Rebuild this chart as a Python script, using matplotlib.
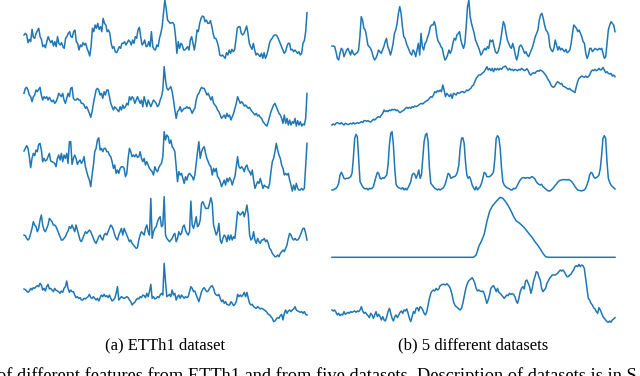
import matplotlib

matplotlib.use("Agg")

import matplotlib.pyplot as plt
import numpy as np

# ETTh1 features (left column)
etth1_feature_1 = [
    75, 80, 75, 52, 62, 55, 92, 68, 65, 80, 88, 95, 70, 62, 40, 45, 37, 55, 70, 60,
    52, 58, 42, 55, 40, 70, 50, 45, 52, 40, 35, 65, 70, 80, 85, 70, 68, 85, 90, 55,
    50, 30, 45, 40, 52, 45, 50, 35, 25, 12, 40, 95, 85, 105, 95, 110, 92, 100, 85, 125,
    110, 105, 85, 90, 80, 50, 35, 40, 25, 22, 30, 40, 35, 50, 50, 55, 45, 52, 60, 55,
    45, 60, 50, 70, 65, 90, 98, 70, 45, 50, 60, 40, 42, 55, 40, 85, 40, 32, 30, 45,
    40, 65, 80, 100, 140, 180, 155, 120, 115, 110, 112, 112, 105, 70, 20, 55, 35, 50, 45, 30,
    30, 35, 40, 30, 60, 70, 50, 30, 55, 90, 85, 110, 125, 132, 130, 115, 120, 110, 110, 118,
    102, 80, 65, 65, 55, 40, 15, 12, 15, 10, 5, 22, 15, 30, 20, 32, 25, 30, 60, 95,
    100, 100, 80, 75, 80, 90, 102, 80, 50, 40, 32, 50, 30, 15, 20, 15, 10, 20, 5, 22,
    5, 15, 30, 50, 60, 65, 72, 75, 75, 70, 60, 50, 40, 30, 20, 25, 40, 50, 50, 30,
    32, 25, 30, 25, 20, 25, 15, 20, 50, 58, 85, 142,
]
etth1_feature_2 = [
    100, 115, 118, 110, 95, 90, 75, 90, 95, 110, 105, 112, 118, 95, 80, 90, 85, 90, 80, 88,
    80, 75, 80, 70, 75, 85, 100, 95, 90, 100, 80, 70, 85, 100, 90, 115, 118, 85, 80, 80,
    85, 80, 80, 70, 70, 65, 55, 60, 50, 40, 28, 45, 70, 90, 110, 115, 110, 95, 100, 85,
    105, 95, 110, 110, 90, 70, 60, 50, 60, 55, 50, 45, 60, 50, 65, 55, 60, 70, 65, 90,
    80, 90, 85, 70, 80, 90, 80, 70, 80, 60, 90, 75, 60, 80, 70, 60, 70, 80, 75, 70,
    60, 65, 80, 90, 110, 180, 140, 115, 110, 115, 120, 105, 80, 50, 25, 45, 50, 60, 45, 50,
    55, 55, 60, 55, 58, 50, 40, 50, 55, 80, 95, 100, 110, 118, 115, 115, 105, 95, 100, 90,
    80, 90, 70, 65, 60, 50, 45, 35, 25, 30, 35, 25, 40, 30, 35, 20, 30, 40, 55, 70,
    90, 80, 70, 75, 70, 62, 65, 60, 55, 58, 50, 45, 40, 35, 40, 32, 35, 28, 25, 15,
    10, 5, 2, 15, 30, 45, 55, 65, 70, 60, 50, 40, 35, 25, 10, 35, 10, 25, 5, 20,
    5, 15, 10, 25, 2, 18, 5, 15, 2, 8, 5, 25, 100,
]
etth1_feature_3 = [
    122, 130, 138, 130, 105, 72, 100, 115, 108, 125, 120, 142, 145, 125, 90, 100, 92, 95, 105, 115,
    92, 90, 88, 85, 75, 100, 110, 95, 115, 90, 110, 100, 115, 85, 150, 150, 82, 100, 110, 100,
    82, 90, 95, 85, 92, 105, 75, 60, 45, 35, 15, 50, 80, 120, 130, 155, 162, 125, 130, 120,
    130, 130, 120, 120, 110, 105, 90, 70, 80, 55, 65, 55, 70, 75, 75, 70, 45, 55, 100, 130,
    120, 105, 110, 105, 112, 103, 105, 120, 100, 90, 100, 80, 90, 80, 70, 65, 60, 50, 75, 65,
    60, 72, 80, 85, 105, 180, 155, 170, 165, 145, 155, 135, 130, 120, 75, 30, 60, 50, 55, 40,
    25, 45, 35, 50, 55, 50, 45, 35, 50, 85, 120, 150, 100, 120, 130, 135, 115, 100, 90, 80,
    75, 50, 70, 60, 70, 45, 40, 30, 15, 25, 35, 20, 40, 30, 42, 35, 20, 35, 45, 75,
    105, 75, 70, 75, 70, 60, 75, 80, 65, 60, 50, 65, 35, 10, 20, 30, 25, 40, 25, 10,
    20, 15, 15, 10, 25, 60, 90, 100, 120, 145, 125, 110, 100, 80, 70, 50, 55, 50, 55, 35,
    20, 2, 20, 5, 25, 10, 5, 5, 10, 5, 10, 80, 145,
]
etth1_feature_4 = [
    68, 66, 58, 53, 58, 73, 88, 108, 98, 93, 78, 88, 113, 128, 98, 83, 78, 88, 98, 118,
    113, 108, 98, 98, 93, 83, 73, 63, 53, 53, 58, 63, 73, 80, 93, 88, 98, 88, 78, 98,
    83, 68, 53, 48, 58, 68, 78, 73, 78, 83, 78, 68, 58, 48, 43, 53, 63, 68, 58, 53,
    68, 73, 68, 78, 88, 98, 93, 83, 68, 58, 53, 68, 78, 88, 68, 88, 78, 68, 58, 48,
    53, 43, 38, 33, 28, 30, 53, 68, 78, 73, 68, 88, 98, 78, 68, 178, 58, 78, 88, 93,
    108, 118, 123, 93, 98, 183, 68, 58, 53, 48, 53, 58, 68, 73, 48, 58, 78, 68, 73, 93,
    98, 83, 73, 68, 78, 170, 98, 88, 103, 123, 93, 98, 113, 163, 168, 158, 148, 148, 148, 163,
    180, 163, 98, 83, 68, 78, 103, 53, 43, 58, 68, 63, 48, 68, 53, 68, 53, 63, 58, 98,
    138, 133, 128, 133, 138, 123, 138, 158, 128, 68, 53, 58, 78, 53, 43, 58, 48, 43, 53, 53,
    58, 48, 53, 43, 28, 23, 13, 8, 3, 3, 8, 3, 13, 18, 23, 18, 28, 38, 58, 73,
    68, 58, 53, 58, 53, 53, 58, 68, 78, 88, 88, 73, 53,
]
etth1_feature_5 = [
    106, 104, 100, 96, 100, 108, 103, 110, 108, 113, 116, 113, 123, 118, 103, 108, 100, 113, 120, 106,
    108, 103, 98, 108, 102, 100, 98, 93, 100, 96, 108, 113, 130, 108, 96, 103, 98, 98, 88, 80,
    83, 78, 80, 73, 73, 78, 76, 80, 83, 90, 80, 78, 83, 78, 73, 78, 70, 80, 88, 83,
    90, 83, 86, 80, 88, 78, 70, 73, 78, 93, 113, 73, 78, 83, 80, 78, 80, 83, 80, 73,
    68, 58, 63, 66, 73, 78, 76, 83, 80, 88, 86, 80, 93, 83, 98, 120, 78, 83, 76, 78,
    83, 80, 88, 93, 88, 183, 128, 83, 86, 90, 83, 103, 88, 93, 73, 83, 88, 78, 88, 83,
    78, 83, 80, 83, 98, 113, 108, 98, 100, 88, 78, 68, 83, 98, 106, 110, 103, 98, 100, 108,
    113, 116, 108, 93, 88, 86, 90, 78, 68, 73, 63, 68, 60, 58, 58, 68, 63, 56, 60, 68,
    90, 83, 88, 83, 88, 96, 83, 96, 78, 63, 58, 60, 53, 50, 48, 53, 50, 46, 48, 46,
    43, 40, 36, 30, 28, 23, 18, 8, 10, 16, 20, 18, 26, 30, 13, 33, 43, 33, 40, 43,
    38, 43, 46, 53, 43, 40, 38, 36, 38, 33, 38, 30, 28,
]

# one series from each of the five datasets (right column)
dataset_1 = [
    47, 47, 45, 30, 10, 5, 25, 40, 35, 15, 25, 35, 40, 30, 20, 35, 25, 20, 25, 27,
    35, 75, 135, 125, 100, 95, 75, 50, 45, 40, 30, 15, 5, 10, 20, 35, 30, 25, 35, 45,
    60, 70, 45, 35, 20, 35, 55, 85, 95, 115, 145, 165, 145, 105, 75, 70, 55, 45, 35, 25,
    20, 35, 30, 15, 35, 55, 20, 85, 45, 35, 55, 60, 75, 85, 105, 110, 110, 120, 105, 75,
    60, 55, 45, 40, 20, 5, 10, 20, 35, 25, 35, 55, 70, 65, 80, 85, 90, 65, 50, 40,
    55, 105, 165, 185, 135, 115, 100, 85, 65, 55, 45, 35, 20, 25, 35, 40, 35, 45, 40, 65,
    60, 65, 45, 30, 25, 30, 45, 65, 95, 120, 110, 85, 65, 55, 45, 40, 55, 40, 20, 5,
    20, 45, 50, 45, 35, 25, 30, 20, 15, 25, 35, 45, 60, 75, 85, 95, 125, 140, 145, 130,
    110, 95, 90, 80, 45, 35, 30, 40, 65, 50, 35, 45, 35, 40, 35, 30, 37, 27, 30, 35,
    55, 85, 110, 105, 100, 90, 95, 85, 75, 60, 55, 25, 10, 20, 40, 40, 30, 35, 40, 37,
    35, 40, 37, 40, 25, 10, 15, 55, 95, 110, 120, 115, 110, 90,
]
dataset_2 = [
    7, 10, 7, 12, 14, 12, 10, 14, 10, 7, 12, 10, 8, 10, 12, 10, 14, 10, 12, 14,
    12, 14, 17, 14, 20, 20, 18, 20, 17, 16, 20, 24, 22, 26, 30, 32, 30, 37, 42, 52,
    47, 50, 47, 52, 50, 54, 52, 54, 50, 52, 47, 44, 47, 50, 52, 57, 60, 57, 60, 57,
    62, 60, 64, 62, 64, 67, 70, 72, 70, 74, 77, 80, 82, 87, 92, 90, 97, 107, 104, 110,
    107, 112, 107, 127, 112, 92, 102, 97, 92, 100, 87, 102, 100, 97, 104, 102, 104, 107, 107, 104,
    107, 112, 110, 114, 117, 124, 127, 137, 147, 152, 157, 157, 160, 164, 167, 174, 182, 172, 177, 170,
    177, 167, 177, 172, 177, 172, 177, 174, 180, 182, 184, 177, 172, 177, 172, 174, 170, 174, 172, 170,
    174, 172, 177, 174, 170, 172, 176, 170, 160, 157, 162, 164, 162, 167, 170, 168, 172, 170, 167, 162,
    157, 150, 142, 137, 127, 122, 120, 124, 132, 137, 134, 130, 132, 124, 122, 120, 117, 114, 117, 112,
    110, 107, 104, 122, 137, 147, 150, 154, 152, 150, 154, 150, 152, 157, 167, 172, 170, 174, 170, 172,
    177, 172, 174, 180, 172, 164, 167, 162, 160, 162, 154, 157, 152,
]
dataset_3 = [
    7, 7, 10, 12, 17, 27, 52, 60, 52, 42, 40, 42, 42, 44, 47, 57, 102, 162, 174, 167,
    102, 32, 24, 17, 12, 10, 12, 7, 12, 10, 12, 17, 32, 47, 60, 57, 42, 40, 44, 42,
    47, 52, 82, 142, 177, 182, 142, 72, 24, 17, 14, 12, 10, 14, 7, 12, 7, 14, 22, 32,
    52, 57, 54, 42, 52, 67, 42, 52, 102, 152, 172, 177, 152, 72, 27, 22, 17, 12, 10, 7,
    10, 7, 10, 12, 17, 27, 42, 57, 54, 42, 44, 47, 47, 52, 62, 82, 132, 162, 164, 147,
    92, 52, 42, 47, 37, 22, 14, 7, 17, 7, 12, 17, 27, 42, 60, 57, 47, 47, 47, 50,
    54, 62, 102, 162, 170, 164, 132, 72, 32, 22, 17, 14, 12, 10, 7, 7, 12, 10, 14, 22,
    30, 37, 42, 44, 44, 42, 44, 44, 42, 45, 47, 44, 40, 32, 27, 24, 22, 24, 17, 14,
    10, 7, 4, 4, 6, 10, 14, 20, 24, 30, 34, 36, 37, 38, 38, 38, 37, 38, 37, 34,
    30, 24, 17, 12, 7, 6, 5, 4, 6, 7, 12, 22, 34, 52, 60, 57, 47, 42, 44, 47,
    52, 72, 112, 162, 170, 162, 92, 42, 30, 22, 17, 14, 10,
]
dataset_4 = [
    0, 0, 0, 0, 0, 0, 0, 0, 0, 0, 0, 0, 0, 0, 0, 0, 0, 0, 0, 0,
    0, 0, 0, 0, 0, 0, 0, 0, 0, 0, 0, 0, 0, 0, 0, 0, 0, 0, 0, 0,
    0, 0, 0, 0, 0, 0, 0, 0, 0, 0, 0, 0, 0, 0,
    7, 33, 49, 69, 107, 137, 153, 163, 172, 180, 177, 167, 155, 140, 123, 109, 104, 97, 89, 79,
    69, 59, 47, 37, 25, 12, 2, 0,
    0, 0, 0, 0, 0, 0, 0, 0, 0, 0, 0, 0, 0, 0, 0, 0, 0, 0, 0, 0,
    0, 0, 0, 0, 0,
]
dataset_5 = [
    43, 40, 43, 36, 28, 33, 26, 30, 28, 38, 30, 33, 36, 33, 38, 36, 38, 40, 36, 40,
    38, 43, 53, 40, 33, 36, 30, 26, 20, 33, 28, 18, 28, 38, 23, 30, 23, 13, 23, 13,
    10, 23, 38, 48, 33, 18, 10, 23, 28, 20, 28, 36, 40, 33, 43, 40, 46, 33, 18, 8,
    23, 38, 33, 48, 50, 40, 53, 50, 43, 33, 28, 38, 58, 78, 93, 100, 103, 100, 108, 103,
    106, 116, 118, 120, 120, 118, 122, 118, 113, 103, 88, 68, 58, 53, 50, 46, 43, 48, 63, 83,
    103, 118, 128, 133, 136, 140, 133, 123, 108, 100, 103, 100, 98, 100, 93, 78, 63, 73, 88, 108,
    113, 116, 108, 98, 108, 96, 93, 88, 83, 78, 83, 88, 86, 93, 90, 92, 90, 83, 70, 63,
    78, 98, 108, 113, 106, 130, 133, 123, 113, 93, 108, 130, 143, 158, 156, 143, 133, 108, 98, 103,
    108, 123, 130, 138, 143, 148, 148, 148, 150, 153, 158, 163, 160, 163, 158, 150, 143, 143, 148, 150,
    158, 163, 173, 176, 173, 180, 173, 178, 176, 168, 138, 108, 78, 73, 63, 58, 50, 46, 38, 33,
    50, 43, 33, 23, 18, 13, 8, 6, 10, 6, 13, 16, 20,
]

sub_captions = ["(a) ETTh1 dataset", "(b) 5 different datasets"]
figure_caption = (
    "of different features from ETTh1 and from five datasets. "
    "Description of datasets is in S"
)

LINE_COLOR = "#1f77b4"
WIDTH_PX = 640
HEIGHT_PX = 376


def add_panel(figure, series, x_px, y_px, y_max):
    """Adds one bare line panel at a pixel box (left, right), (top, bottom)."""

    left, right = x_px
    top, bottom = y_px

    axis = figure.add_axes(
        [
            left / WIDTH_PX,
            1 - bottom / HEIGHT_PX,
            (right - left) / WIDTH_PX,
            (bottom - top) / HEIGHT_PX,
        ]
    )

    values = np.asarray(series, dtype=float)

    axis.plot(
        np.arange(len(values)),
        values,
        color=LINE_COLOR,
        linewidth=1.1,
        clip_on=False,
    )

    axis.set_xlim(0, len(values) - 1)
    axis.set_ylim(0, y_max)
    axis.axis("off")


def main() -> None:
    figure = plt.figure(
        figsize=(WIDTH_PX / 100, HEIGHT_PX / 100),
        dpi=100,
    )

    left_x = (24, 307)
    right_x = (332, 615)

    left_panels = [
        (etth1_feature_1, (0, 60), 180),
        (etth1_feature_2, (65, 126.7), 185),
        (etth1_feature_3, (131.7, 191.7), 180),
        (etth1_feature_4, (195.7, 257.7), 186),
        (etth1_feature_5, (262.7, 324.3), 185),
    ]
    right_panels = [
        (dataset_1, (0, 61.7), 185),
        (dataset_2, (65.7, 127.3), 185),
        (dataset_3, (130.7, 192.3), 185),
        (dataset_4, (197, 257.3), 181),
        (dataset_5, (262.7, 324.3), 185),
    ]

    for series, y_px, y_max in left_panels:
        add_panel(figure, series, left_x, y_px, y_max)

    for series, y_px, y_max in right_panels:
        add_panel(figure, series, right_x, y_px, y_max)

    # captions in a Times-like serif
    serif = ["Liberation Serif", "DejaVu Serif"]

    figure.text(
        165 / WIDTH_PX,
        1 - 345 / HEIGHT_PX,
        sub_captions[0],
        ha="center",
        va="center",
        family=serif,
        fontsize=12,
    )
    figure.text(
        473.5 / WIDTH_PX,
        1 - 345 / HEIGHT_PX,
        sub_captions[1],
        ha="center",
        va="center",
        family=serif,
        fontsize=12,
    )

    # the paper caption runs past the crop on both sides and at the bottom
    figure.text(
        -3 / WIDTH_PX,
        1 - 381 / HEIGHT_PX,
        figure_caption,
        ha="left",
        va="baseline",
        family=serif,
        fontsize=13.2,
    )

    figure.savefig("out.png", dpi=100)


if __name__ == "__main__":
    main()
